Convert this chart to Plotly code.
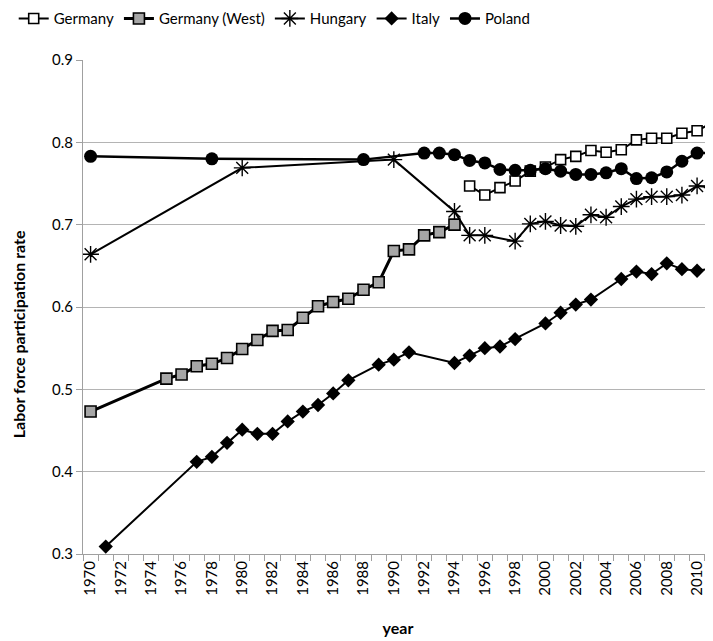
import plotly.graph_objects as go

# ---- data ----
germany_years = [1995, 1996, 1997, 1998, 1999, 2000, 2001, 2002, 2003, 2004, 2005,
                 2006, 2007, 2008, 2009, 2010, 2011]
germany_vals = [0.747, 0.736, 0.745, 0.753, 0.765, 0.770, 0.779, 0.783, 0.790, 0.788, 0.791,
                0.803, 0.805, 0.805, 0.811, 0.814, 0.824]

west_years = [1970, 1975, 1976, 1977, 1978, 1979, 1980, 1981, 1982, 1983, 1984, 1985,
              1986, 1987, 1988, 1989, 1990, 1991, 1992, 1993, 1994]
west_vals = [0.473, 0.513, 0.518, 0.528, 0.531, 0.538, 0.549, 0.560, 0.571, 0.572, 0.587, 0.601,
             0.606, 0.610, 0.621, 0.630, 0.668, 0.670, 0.687, 0.691, 0.700]

hungary_years = [1970, 1980, 1990, 1994, 1995, 1996, 1998, 1999, 2000, 2001, 2002, 2003,
                 2004, 2005, 2006, 2007, 2008, 2009, 2010, 2011]
hungary_vals = [0.664, 0.769, 0.779, 0.716, 0.687, 0.687, 0.680, 0.701, 0.704, 0.699, 0.698, 0.712,
                0.709, 0.722, 0.731, 0.734, 0.734, 0.736, 0.747, 0.745]

italy_years = [1971, 1977, 1978, 1979, 1980, 1981, 1982, 1983, 1984, 1985, 1986, 1987, 1989,
               1990, 1991, 1994, 1995, 1996, 1997, 1998, 2000, 2001, 2002, 2003, 2005, 2006,
               2007, 2008, 2009, 2010, 2011]
italy_vals = [0.309, 0.412, 0.418, 0.435, 0.451, 0.446, 0.446, 0.461, 0.473, 0.481, 0.495, 0.511, 0.530,
              0.536, 0.545, 0.532, 0.541, 0.550, 0.552, 0.561, 0.580, 0.593, 0.603, 0.609, 0.634, 0.643,
              0.640, 0.653, 0.646, 0.644, 0.647]

poland_years = [1970, 1978, 1988, 1992, 1993, 1994, 1995, 1996, 1997, 1998, 1999, 2000, 2001,
                2002, 2003, 2004, 2005, 2006, 2007, 2008, 2009, 2010, 2011]
poland_vals = [0.783, 0.780, 0.779, 0.787, 0.787, 0.785, 0.778, 0.775, 0.767, 0.766, 0.766, 0.768, 0.765,
               0.761, 0.761, 0.763, 0.768, 0.756, 0.757, 0.764, 0.777, 0.787, 0.787]

x_tick_years = list(range(1970, 2011, 2))
x_tick_labels = [str(y) for y in x_tick_years]
y_ticks = [0.3, 0.4, 0.5, 0.6, 0.7, 0.8, 0.9]
y_tick_labels = ["0.3", "0.4", "0.5", "0.6", "0.7", "0.8", "0.9"]

FONT = "Lato, 'Open Sans', sans-serif"

fig = go.Figure()
fig.add_trace(go.Scatter(
    x=germany_years, y=germany_vals, name="Germany", mode="lines+markers",
    line=dict(color="black", width=2),
    marker=dict(symbol="square", size=10, color="white", line=dict(color="black", width=1.6))))
fig.add_trace(go.Scatter(
    x=west_years, y=west_vals, name="Germany (West)", mode="lines+markers",
    line=dict(color="black", width=3),
    marker=dict(symbol="square", size=11, color="#a6a6a6", line=dict(color="black", width=1.6))))
fig.add_trace(go.Scatter(
    x=hungary_years, y=hungary_vals, name="Hungary", mode="lines+markers",
    line=dict(color="black", width=2),
    marker=dict(symbol="asterisk-open", size=14, color="black", line=dict(color="black", width=1.4))))
fig.add_trace(go.Scatter(
    x=italy_years, y=italy_vals, name="Italy", mode="lines+markers",
    line=dict(color="black", width=2),
    marker=dict(symbol="diamond", size=11, color="black")))
fig.add_trace(go.Scatter(
    x=poland_years, y=poland_vals, name="Poland", mode="lines+markers",
    line=dict(color="black", width=2.5),
    marker=dict(symbol="circle", size=13, color="black")))

# page body has an 8px margin, so the figure is shifted by 8px right/down
fig.update_layout(
    width=705, height=633,
    margin=dict(l=75, r=0, t=52, b=87, autoexpand=False),
    paper_bgcolor="white", plot_bgcolor="white",
    font=dict(family=FONT, color="black", size=15),
    showlegend=True,
    legend=dict(orientation="h", x=0.0081, xanchor="left", xref="container",
                y=1.117, yanchor="top", yref="paper",
                font=dict(size=15), itemwidth=30, tracegroupgap=0,
                bgcolor="rgba(0,0,0,0)"),
    annotations=[dict(text="<b>Labor force participation rate</b>", textangle=-90,
                      xref="paper", yref="paper", x=-0.103, y=0.445,
                      xanchor="center", yanchor="middle", showarrow=False,
                      font=dict(size=16, family=FONT, color="black"))],
)
fig.update_xaxes(
    range=[1969.5, 2011.05], automargin=False,
    tickmode="array", tickvals=x_tick_years, ticktext=x_tick_labels,
    tickangle=-90, tickfont=dict(size=15, family=FONT),
    ticks="", showgrid=False, zeroline=False,
    showline=True, linecolor="#a0a0a0", linewidth=1,
    minor=dict(tick0=1969.5, dtick=1, ticks="outside", ticklen=6,
               tickcolor="#a0a0a0", tickwidth=1, showgrid=False),
    title=dict(text="<b>year</b>", font=dict(size=16, family=FONT), standoff=27),
)
fig.update_yaxes(
    range=[0.3, 0.9], automargin=False,
    tickmode="array", tickvals=y_ticks, ticktext=y_tick_labels,
    tickfont=dict(size=15, family=FONT),
    ticks="outside", ticklen=6, tickcolor="#a0a0a0",
    showgrid=True, gridcolor="#b4b4b4", gridwidth=1, zeroline=False,
    showline=True, linecolor="#a0a0a0", linewidth=1,
)

fig.write_html("out.html")
